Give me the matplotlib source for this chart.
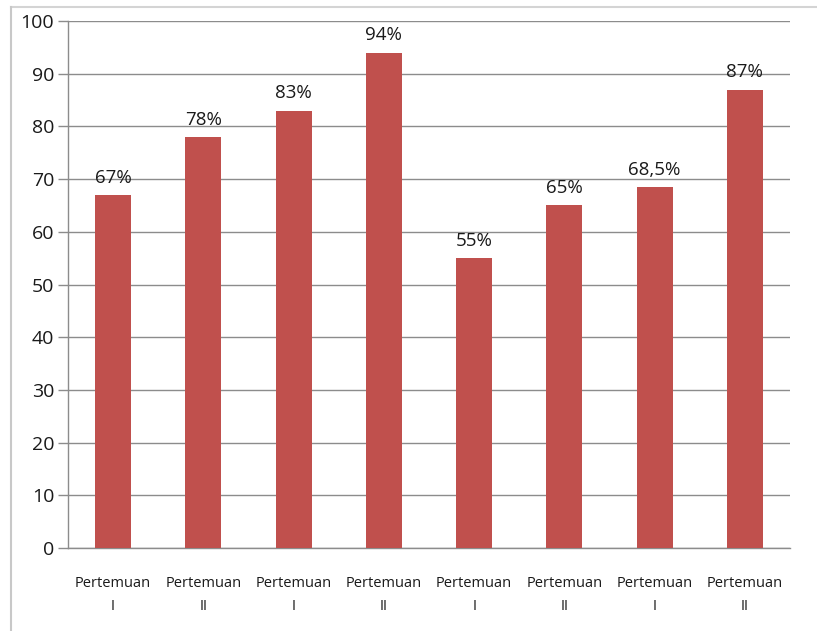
import matplotlib
matplotlib.use("Agg")
import matplotlib.pyplot as plt
from matplotlib.lines import Line2D

# Data
categories = ["Pertemuan\nI", "Pertemuan\nII", "Pertemuan\nI", "Pertemuan\nII",
              "Pertemuan\nI", "Pertemuan\nII", "Pertemuan\nI", "Pertemuan\nII"]
values = [67, 78, 83, 94, 55, 65, 68.5, 87]
value_labels = ["67%", "78%", "83%", "94%", "55%", "65%", "68,5%", "87%"]
y_ticks = [0, 10, 20, 30, 40, 50, 60, 70, 80, 90, 100]

plt.rcParams["font.family"] = ["Open Sans", "DejaVu Sans"]

fig = plt.figure(figsize=(8.17, 6.31), dpi=100)
ax = fig.add_axes([68 / 817, 1 - 548 / 631, (790 - 68) / 817, (548 - 21) / 631])

grid_color = "#8c8c8c"
x = range(len(categories))
bars = ax.bar(x, values, width=0.4, color="#C0504D", zorder=3)

for bar, lab in zip(bars, value_labels):
    ax.annotate(lab, (bar.get_x() + bar.get_width() / 2, bar.get_height()),
                xytext=(0, 6), textcoords="offset points",
                ha="center", va="bottom", fontsize=13.5, color="#1a1a1a")

ax.set_xlim(-0.5, len(categories) - 0.5)
ax.set_ylim(0, 100)
ax.set_yticks(y_ticks)
ax.set_xticks(list(x))
ax.set_xticklabels(categories, fontsize=10.5, linespacing=1.75, color="#1a1a1a")
ax.tick_params(axis="y", labelsize=14, length=7, width=1, color=grid_color,
               labelcolor="#1a1a1a", pad=3)
ax.tick_params(axis="x", length=0, pad=20)

ax.grid(axis="y", color=grid_color, linewidth=1, zorder=0)
for side in ["top", "right"]:
    ax.spines[side].set_visible(False)
for side in ["left", "bottom"]:
    ax.spines[side].set_color(grid_color)
    ax.spines[side].set_linewidth(1)

# outer frame lines
fig.add_artist(Line2D([11 / 817, 1], [1 - 7 / 631, 1 - 7 / 631],
                      transform=fig.transFigure, color="#d4d4d4", linewidth=1.5))
fig.add_artist(Line2D([11 / 817, 11 / 817], [0, 1 - 7 / 631],
                      transform=fig.transFigure, color="#c8c8c8", linewidth=1.5))

fig.savefig("out.png", dpi=100)
plt.close(fig)
